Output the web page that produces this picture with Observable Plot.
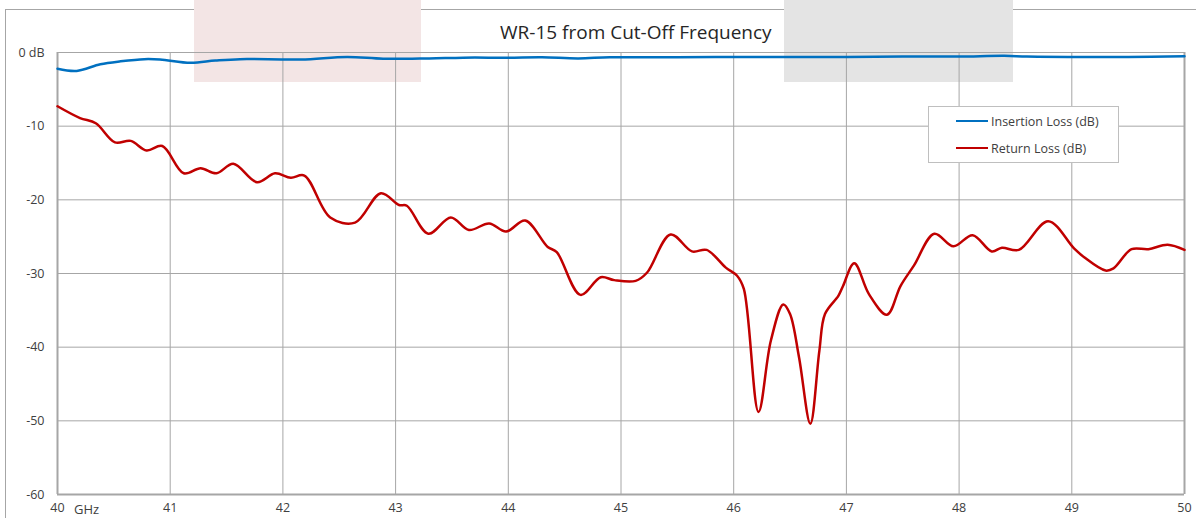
<!DOCTYPE html>
<html>
<head>
<meta charset="utf-8">
<script src="https://cdn.jsdelivr.net/npm/d3@7"></script>
<script src="https://cdn.jsdelivr.net/npm/@observablehq/plot@0.6"></script>
<style>
  html, body { margin: 0; padding: 0; background: #fff; }
  #wrap { position: relative; width: 1196px; height: 518px; overflow: hidden; font-family: "Open Sans", sans-serif; color: #404040; }
  #frameTop { position: absolute; left: 5px; top: 9px; width: 1191px; height: 0; border-top: 1px solid #a6a6a6; }
  #frameLeft { position: absolute; left: 5px; top: 9px; width: 0; height: 509px; border-left: 1px solid #a6a6a6; }
  .patch { position: absolute; top: 0; height: 82px; }
  #chart { position: absolute; left: 0; top: 0; }
  #title { position: absolute; left: 500px; top: 19px; font-size: 19px; color: #262626; white-space: nowrap; }
  #legend { position: absolute; left: 928px; top: 106px; width: 189px; height: 55px; background: #fff; border: 1px solid #bfbfbf; }
  .item { position: absolute; left: 27px; height: 16px; display: flex; align-items: center; font-size: 12.5px; color: #404040; white-space: nowrap; }
  .swatch { width: 32px; height: 2.5px; margin-right: 3px; }
</style>
</head>
<body>
<div id="wrap">
  <div id="frameTop"></div>
  <div id="frameLeft"></div>
  <div class="patch" style="left:194px;width:227px;background:#f3e5e5;"></div>
  <div class="patch" style="left:784px;width:229px;background:#e4e4e4;"></div>
  <div id="chart"></div>
  <div id="title">WR-15 from Cut-Off Frequency</div>
  <div id="legend"></div>
</div>
<script>
// ---- data ----
const xTicks = [40, 41, 42, 43, 44, 45, 46, 47, 48, 49, 50];
const yTicks = [0, -10, -20, -30, -40, -50, -60];
const xUnit = "GHz";
const seriesNames = ["Insertion Loss (dB)", "Return Loss (dB)"];
const seriesColors = ["#0070c0", "#c00000"];

const ilFreq = [40.0, 40.17, 40.38, 40.56, 40.77, 40.91, 41.18, 41.4, 41.62, 42.16, 42.57, 42.89, 43.3, 43.6, 44.0, 44.3, 44.62, 44.9, 45.5, 46.0, 46.5, 47.0, 47.5, 48.0, 48.4, 48.6, 49.0, 49.5, 50.0];
const ilDb   = [-2.2, -2.5, -1.6, -1.2, -0.9, -0.95, -1.4, -1.1, -0.9, -0.95, -0.6, -0.85, -0.8, -0.7, -0.7, -0.65, -0.8, -0.65, -0.65, -0.6, -0.6, -0.6, -0.55, -0.55, -0.45, -0.55, -0.6, -0.6, -0.5];

const rlFreq = [40.0, 40.2, 40.34, 40.51, 40.65, 40.79, 40.93, 41.12, 41.27, 41.41, 41.56, 41.77, 41.93, 42.07, 42.19, 42.42, 42.64, 42.87, 43.03, 43.1, 43.29, 43.49, 43.65, 43.83, 43.98, 44.15, 44.35, 44.43, 44.64, 44.82, 44.94, 45.13, 45.23, 45.44, 45.63, 45.76, 45.93, 46.03, 46.09, 46.22, 46.33, 46.44, 46.5, 46.58, 46.68, 46.76, 46.81, 46.93, 46.97, 47.07, 47.2, 47.36, 47.48, 47.6, 47.78, 47.95, 48.12, 48.29, 48.38, 48.53, 48.79, 49.02, 49.11, 49.3, 49.37, 49.53, 49.68, 49.85, 50.0];
const rlDb   = [-7.3, -8.9, -9.6, -12.2, -12.0, -13.3, -12.7, -16.4, -15.7, -16.4, -15.1, -17.6, -16.4, -17.0, -16.7, -22.4, -23.1, -19.1, -20.7, -20.8, -24.6, -22.4, -24.1, -23.2, -24.3, -22.8, -26.4, -27.1, -32.9, -30.5, -30.9, -31.0, -29.9, -24.7, -27.0, -26.8, -29.2, -30.3, -32.1, -48.8, -39.1, -34.2, -35.5, -41.4, -50.4, -40.5, -35.5, -33.0, -31.7, -28.6, -32.8, -35.6, -31.7, -28.9, -24.6, -26.3, -24.8, -27.0, -26.5, -26.8, -22.9, -26.6, -27.8, -29.6, -29.3, -26.7, -26.7, -26.1, -26.8];

// ---- build tables ----
const ilData = ilFreq.map((f, i) => ({f, v: ilDb[i]}));
const rlData = rlFreq.map((f, i) => ({f, v: rlDb[i]}));
const gridColor = "#a6a6a6";

const chart = Plot.plot({
  width: 1196,
  height: 518,
  marginLeft: 57,
  marginRight: 12,
  marginTop: 52,
  marginBottom: 24,
  style: {fontFamily: "'Open Sans', sans-serif", fontSize: "12.5px", color: "#404040", background: "transparent", overflow: "visible"},
  x: {domain: [40, 50], ticks: xTicks, tickFormat: d => String(d), tickSize: 0, tickPadding: 9, label: null},
  y: {domain: [-60, 0], ticks: yTicks, tickFormat: d => d === 0 ? "0 dB" : String(d), tickSize: 0, tickPadding: 13, label: null},
  marks: [
    Plot.gridX(xTicks, {stroke: gridColor, strokeOpacity: 1, strokeWidth: 1}),
    Plot.gridY(yTicks, {stroke: gridColor, strokeOpacity: 1, strokeWidth: 1}),
    Plot.ruleX([40, 50], {stroke: gridColor, strokeWidth: 2}),
    Plot.ruleY([-60], {stroke: gridColor, strokeWidth: 2}),
    Plot.line(rlData, {x: "f", y: "v", stroke: seriesColors[1], strokeWidth: 2.5, curve: "catmull-rom"}),
    Plot.line(ilData, {x: "f", y: "v", stroke: seriesColors[0], strokeWidth: 2.5, curve: "catmull-rom"}),
    Plot.text([xUnit], {x: xTicks[0], y: yTicks[yTicks.length - 1], text: d => d, dx: 29, dy: 15, fill: "#404040", fontSize: 13})
  ]
});
document.getElementById("chart").appendChild(chart);

// legend
const legend = document.getElementById("legend");
seriesNames.forEach((name, i) => {
  const item = document.createElement("div");
  item.className = "item";
  item.style.top = (6 + i * 27) + "px";
  const sw = document.createElement("div");
  sw.className = "swatch";
  sw.style.background = seriesColors[i];
  const label = document.createElement("span");
  label.textContent = name;
  item.appendChild(sw);
  item.appendChild(label);
  legend.appendChild(item);
});
</script>
</body>
</html>
